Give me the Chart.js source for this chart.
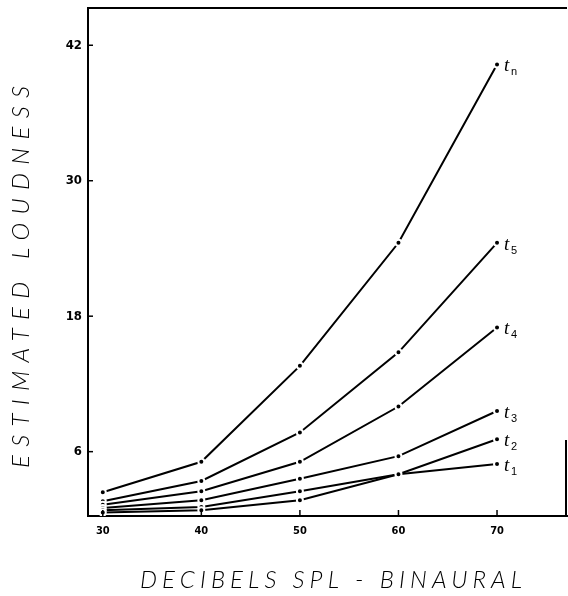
<!DOCTYPE html>
<html>
<head>
<meta charset="utf-8">
<script src="https://cdn.jsdelivr.net/npm/chart.js@4/dist/chart.umd.min.js"></script>
<style>
  html,body{margin:0;padding:0;background:#fff;overflow:hidden;}
  #wrap{width:568px;height:596px;position:relative;}
</style>
</head>
<body>
<div id="wrap"><canvas id="loud"></canvas></div>
<script>
// loudness estimates vs level, one curve per duration (t1 .. tn)
const levelsDb = [30, 40, 50, 60, 70];
const t1 = [0.6, 0.8, 1.7, 4.0, 4.9];
const t2 = [0.8, 1.1, 2.5, 4.0, 7.1];
const t3 = [1.0, 1.7, 3.6, 5.6, 9.6];
const t4 = [1.3, 2.5, 5.1, 10.0, 17.0];
const t5 = [1.6, 3.4, 7.7, 14.8, 24.5];
const tn = [2.4, 5.1, 13.6, 24.5, 40.3];
const seriesSubs = ['1', '2', '3', '4', '5', 'n'];
const xTicks = [30, 40, 50, 60, 70];
const yTicks = [6, 18, 30, 42];
const yTitle = 'ESTIMATED LOUDNESS';
const xTitle = 'DECIBELS SPL - BINAURAL';

const INK = '#000';
const TICK_FONT = "'Liberation Sans Narrow','DejaVu Sans Condensed','Liberation Sans',sans-serif";
const TITLE_FONT = "Lato,'Open Sans','DejaVu Sans',sans-serif";

function spacedText(ctx, text, x, y, target){
  ctx.letterSpacing = '0px';
  const w = ctx.measureText(text).width;
  const s = (target - w) / (text.length - 1);
  ctx.letterSpacing = s + 'px';
  ctx.textAlign = 'left';
  ctx.fillText(text, x, y);
  ctx.letterSpacing = '0px';
}

const decor = {
  id: 'decor',
  afterDraw(chart){
    const {ctx, chartArea:a, scales:{x, y}} = chart;
    ctx.save();
    ctx.strokeStyle = INK; ctx.fillStyle = INK;
    // frame: top line + short piece on the right
    ctx.lineWidth = 2;
    ctx.beginPath(); ctx.moveTo(a.left, a.top); ctx.lineTo(a.right, a.top); ctx.stroke();
    ctx.beginPath(); ctx.moveTo(a.right - 1, a.bottom - 76); ctx.lineTo(a.right - 1, a.bottom); ctx.stroke();
    // inward tick marks
    ctx.lineWidth = 1.5;
    yTicks.forEach(v => {
      const py = y.getPixelForValue(v);
      ctx.beginPath(); ctx.moveTo(a.left, py); ctx.lineTo(a.left + 5, py); ctx.stroke();
    });
    xTicks.forEach(v => {
      const px = x.getPixelForValue(v);
      ctx.beginPath(); ctx.moveTo(px, a.bottom); ctx.lineTo(px, a.bottom - 6); ctx.stroke();
    });
    // curve labels t1..tn at the last point
    chart.data.datasets.forEach((ds, i) => {
      const meta = chart.getDatasetMeta(i);
      const p = meta.data[meta.data.length - 1];
      ctx.textAlign = 'left'; ctx.textBaseline = 'alphabetic';
      ctx.font = "italic 19px 'Liberation Serif','DejaVu Serif',serif";
      ctx.fillText('t', p.x + 7, p.y + 7);
      ctx.font = "11px 'Liberation Sans Narrow','Liberation Sans',sans-serif";
      ctx.fillText(seriesSubs[i], p.x + 14, p.y + 11);
    });
    // axis titles
    ctx.font = 'italic 300 24px ' + TITLE_FONT;
    ctx.textBaseline = 'middle';
    ctx.save();
    ctx.translate(21, 277);
    ctx.rotate(-Math.PI / 2);
    spacedText(ctx, yTitle, -191, 0, 382);
    ctx.restore();
    spacedText(ctx, xTitle, 140, 580, 382);
    ctx.restore();
  }
};

const curves = [t1, t2, t3, t4, t5, tn];
const datasets = curves.map((vals, i) => ({
  label: 't' + seriesSubs[i],
  data: levelsDb.map((db, j) => ({x: db, y: vals[j]})),
  borderColor: INK,
  borderWidth: 2,
  pointRadius: 3,
  pointBorderWidth: 2,
  pointBackgroundColor: INK,
  pointBorderColor: '#fff',
  tension: 0,
  fill: false
}));

new Chart(document.getElementById('loud').getContext('2d'), {
  type: 'line',
  data: {datasets},
  options: {
    responsive: true, maintainAspectRatio: false, animation: false,
    layout: {autoPadding: false, padding: {top: 8, right: 1, left: 0, bottom: 0}},
    plugins: {legend: {display: false}, tooltip: {enabled: false}},
    scales: {
      x: {
        type: 'linear', min: 28.5, max: 77.1,
        afterBuildTicks: s => { s.ticks = xTicks.map(v => ({value: v})); },
        afterFit: s => { s.height = 80; s.paddingLeft = 0; s.paddingRight = 0; },
        border: {display: true, color: INK, width: 2},
        grid: {display: false, drawTicks: false},
        ticks: {color: INK, padding: 9, font: {family: TICK_FONT, size: 11, weight: 'bold'}}
      },
      y: {
        type: 'linear', min: 0.3, max: 45.3,
        afterBuildTicks: s => { s.ticks = yTicks.map(v => ({value: v})); },
        afterFit: s => { s.width = 88; s.paddingTop = 0; s.paddingBottom = 0; },
        border: {display: true, color: INK, width: 2},
        grid: {display: false, drawTicks: false},
        ticks: {color: INK, padding: 6, font: {family: TICK_FONT, size: 13, weight: 'bold'}}
      }
    }
  },
  plugins: [decor]
});
</script>
</body>
</html>
